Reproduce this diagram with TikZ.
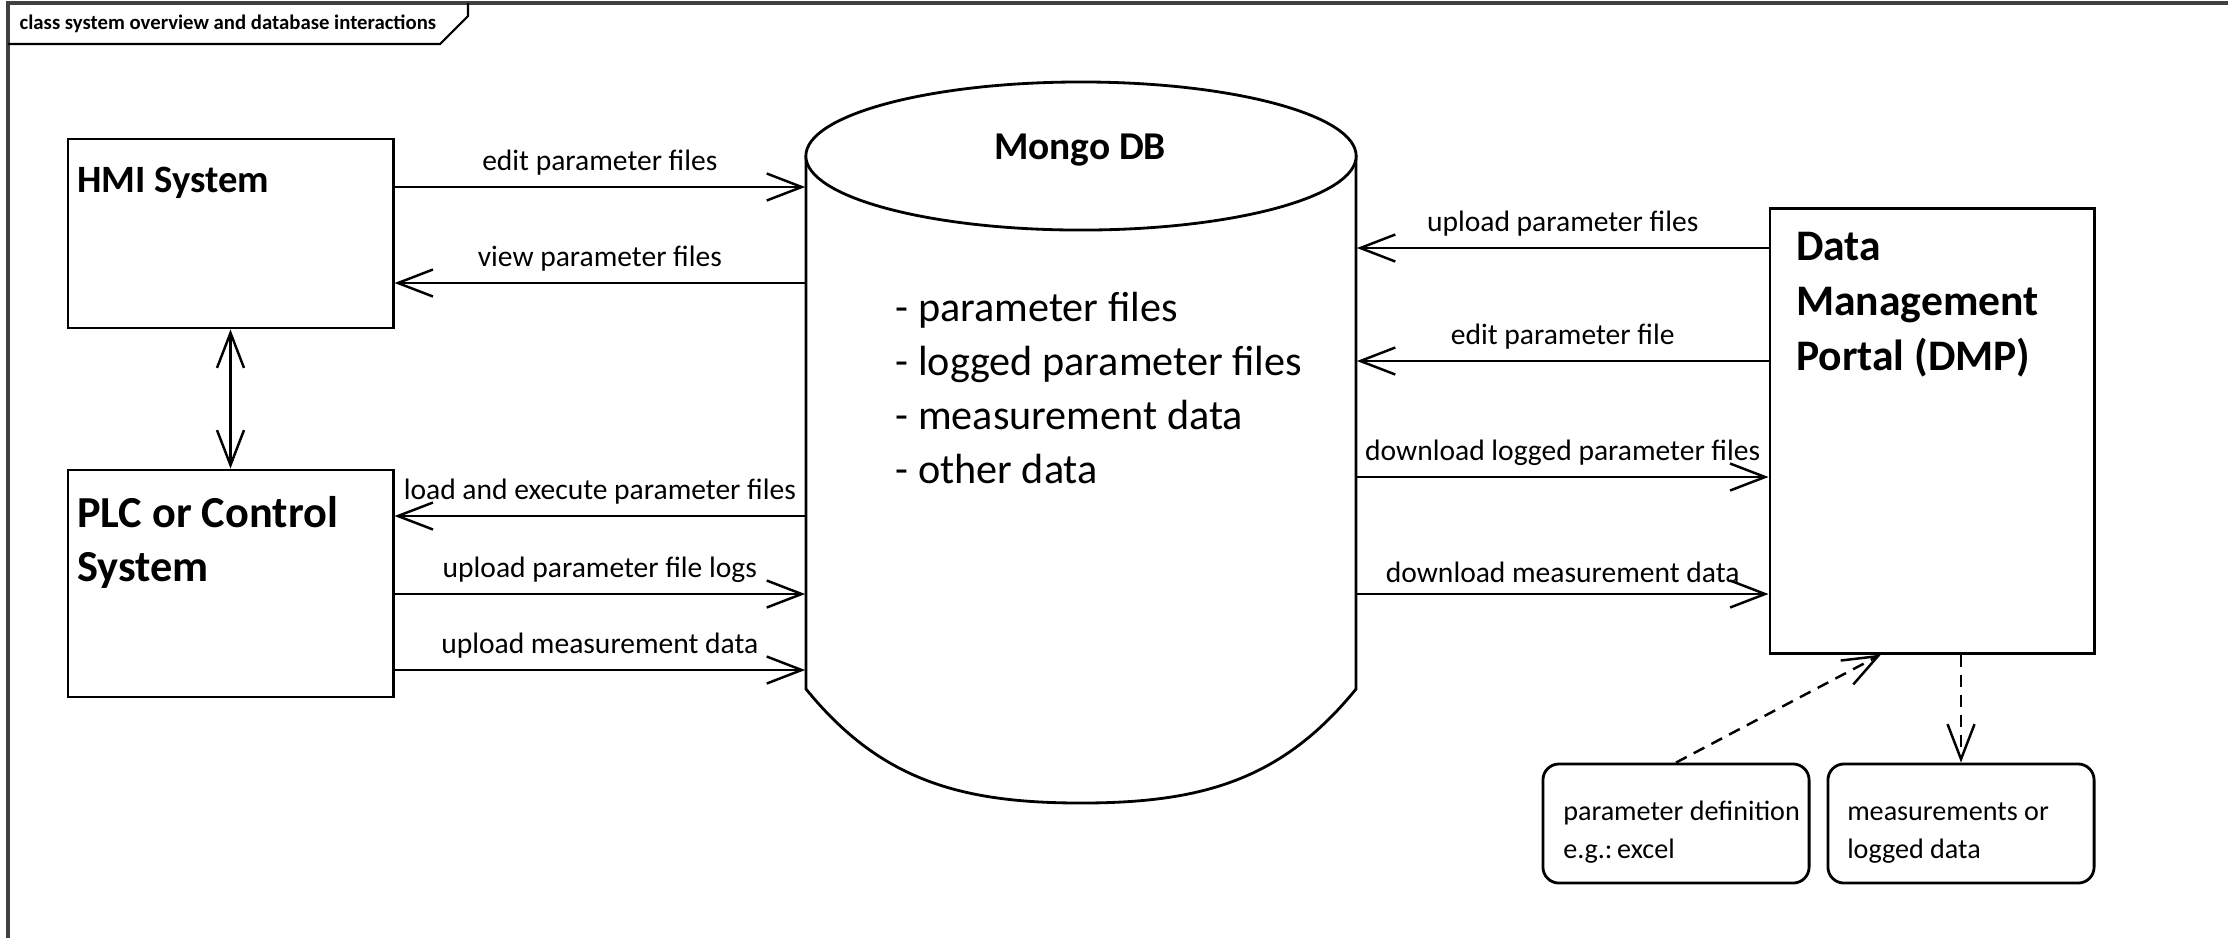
\documentclass[tikz,border=0pt]{standalone}
\usepackage{fontspec}
\setmainfont{Carlito}
\usetikzlibrary{arrows.meta,positioning}

\tikzset{
  block/.style={draw, line width=0.8pt, inner sep=0pt},
  note/.style={draw, line width=0.8pt, rounded corners=0.16cm, minimum width=2.66cm, minimum height=1.19cm, inner sep=0pt},
  bigtxt/.style={font=\fontsize{11}{13.4}\selectfont\bfseries, align=left, inner sep=0pt},
  notetxt/.style={font=\fontsize{8}{10.8}\selectfont, align=left, inner sep=0pt},
  lbl/.style={above, font=\fontsize{8.4}{10}\selectfont, inner sep=3pt},
  flow/.style={line width=0.7pt, -{Straight Barb[length=0.35cm,width=0.27cm]}},
  both/.style={line width=0.7pt, {Straight Barb[length=0.35cm,width=0.27cm]}-{Straight Barb[length=0.35cm,width=0.27cm]}},
  dep/.style={flow, dash pattern=on 0.12cm off 0.08cm}
}

\begin{document}
\begin{tikzpicture}[x=0.01cm, y=-0.01cm]
\useasboundingbox (0,0) rectangle (2228,938);
% frame and title tab
\draw[line width=0.9pt, black!75] (8,938) -- (8,3) -- (2228,3);
\draw[line width=0.6pt] (8,44) -- (440,44) -- (468,16) -- (468,3);
\node[anchor=west, font=\fontsize{5.9}{7}\selectfont\bfseries, inner sep=0pt] (title) at (19,24) {class system overview and database interactions};

% left systems
\node[block, minimum width=3.25cm, minimum height=1.89cm] (hmi) at (230.5,233.5) {};
\node[block, minimum width=3.25cm, minimum height=2.27cm] (plc) at (230.5,583.5) {};
\node[bigtxt, below right=0.29cm and 0.10cm of hmi.north west] (hmitxt) {HMI System};
\node[bigtxt, font=\fontsize{12.6}{15.4}\selectfont\bfseries, below right=0.27cm and 0.10cm of plc.north west] (plctxt) {PLC or Control\\System};

% database
\node[minimum width=5.5cm, minimum height=5.33cm, inner sep=0pt] (db) at (1081,422.5) {};
\draw[line width=0.8pt] (806,156) -- (806,689) .. controls (880,780) and (960,803) .. (1081,803)
  .. controls (1202,803) and (1282,780) .. (1356,689) -- (1356,156);
\draw[line width=0.8pt, fill=white] (1081,156) ellipse [x radius=2.75cm, y radius=0.74cm];
\node[font=\fontsize{11.2}{13}\selectfont\bfseries] (dbname) at (1080,150) {Mongo DB};
\node[font=\fontsize{12}{15.4}\selectfont, align=left, anchor=north west, inner sep=0pt] (dblist) at (895,291)
  {- parameter files\\- logged parameter files\\- measurement data\\- other data};

% data management portal
\node[block, minimum width=3.24cm, minimum height=4.44cm] (dmp) at (1932,431) {};
\node[bigtxt, font=\fontsize{12.4}{15.6}\selectfont\bfseries, below right=0.24cm and 0.27cm of dmp.north west] (dmptxt) {Data\\Management\\Portal (DMP)};

\node[note] (pdef) at (1676,823.5) {};
\node[note] (meas) at (1961,823.5) {};
\node[notetxt, right=0.21cm of pdef.west, yshift=-0.09cm] (pdeftxt) {parameter definition\\e.g.:\,excel};
\node[notetxt, right=0.20cm of meas.west, yshift=-0.09cm] (meastxt) {measurements or\\logged data};

% connectors
\draw[both] (hmi.south) -- (plc.north);
\draw[flow] (hmi.east |- 0,187) -- node[lbl] {edit parameter files} (db.west |- 0,187);
\draw[flow] (db.west |- 0,283) -- node[lbl] {view parameter files} (hmi.east |- 0,283);
\draw[flow] (db.west |- 0,516) -- node[lbl] {load and execute parameter files} (plc.east |- 0,516);
\draw[flow] (plc.east |- 0,594) -- node[lbl] {upload parameter file logs} (db.west |- 0,594);
\draw[flow] (plc.east |- 0,670) -- node[lbl] {upload measurement data} (db.west |- 0,670);
\draw[flow] (dmp.west |- 0,248) -- node[lbl] {upload parameter files} (db.east |- 0,248);
\draw[flow] (dmp.west |- 0,361) -- node[lbl] {edit parameter file} (db.east |- 0,361);
\draw[flow] (db.east |- 0,477) -- node[lbl] {download logged parameter files} (dmp.west |- 0,477);
\draw[flow] (db.east |- 0,594) -- node[lbl] {download measurement data} (dmp.west |- 0,594);
\draw[dep] (pdef.north) -- ([xshift=-0.51cm]dmp.south);
\draw[dep] (dmp.south -| meas.north) -- (meas.north);
\end{tikzpicture}
\end{document}
